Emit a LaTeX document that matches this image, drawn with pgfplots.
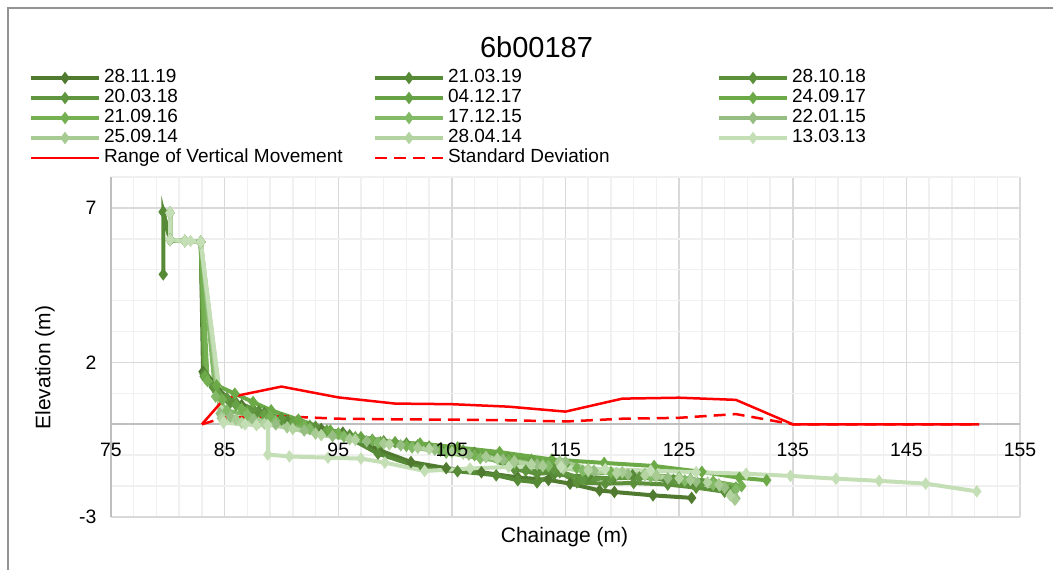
\documentclass[border=0pt]{standalone}
\usepackage{fontspec}
\setmainfont{Liberation Sans}
\usepackage{pgfplots}
\pgfplotsset{compat=1.18}
\definecolor{c1}{HTML}{4F7A30}
\definecolor{c2}{HTML}{578A36}
\definecolor{c3}{HTML}{5C903B}
\definecolor{c4}{HTML}{619641}
\definecolor{c5}{HTML}{67A247}
\definecolor{c6}{HTML}{6CAA48}
\definecolor{c7}{HTML}{75B153}
\definecolor{c8}{HTML}{82BA67}
\definecolor{c9}{HTML}{96BD82}
\definecolor{c10}{HTML}{A7CB92}
\definecolor{c11}{HTML}{B3D3A1}
\definecolor{c12}{HTML}{C4DEB5}
\newcommand{\LE}[1]{\makebox[134.5pt][l]{#1}}
\pgfplotsset{
  gser/.style={#1, line width=2pt, mark=diamond*, mark size=1.5pt, mark options={solid, fill=#1}},
  lser/.style={#1, line width=2pt, mark=diamond*, mark size=1.5pt, mark options={solid, fill=#1!45!white}},
}
\begin{document}
\begin{tikzpicture}[x=1pt,y=1pt]
\path[use as bounding box] (0,0) rectangle (526.5,285);
\draw[color=gray!85, line width=0.6pt] (4,0) -- (4,281) -- (526.5,281);
\begin{axis}[
  at={(55.5pt,26.5pt)}, anchor=south west,
  scale only axis, width=454.5pt, height=170pt,
  xmin=75, xmax=155, ymin=-3, ymax=8,
  xtick={75,85,...,155}, ytick={-3,2,7},
  xticklabels={},
  minor xtick={77,79,81,83,87,89,91,93,97,99,101,103,107,109,111,113,117,119,121,123,127,129,131,133,137,139,141,143,147,149,151,153},
  minor ytick={-2,-1,0,1,3,4,5,6,8},
  grid=both,
  major grid style={gray!30, line width=0.75pt},
  minor grid style={gray!12, line width=0.75pt},
  extra y ticks={0}, extra y tick labels={},
  extra y tick style={grid=major, major grid style={gray!50, line width=1pt}},
  extra x ticks={75}, extra x tick labels={},
  extra x tick style={grid=major, major grid style={gray!50, line width=1pt}},
  axis line style={draw=none},
  major tick length=0pt, minor tick length=0pt,
  /pgf/number format/assume math mode=true,
  yticklabel style={font=\fontsize{9.7}{11}\selectfont, xshift=-3.8pt},
  xlabel={Chainage (m)}, ylabel={Elevation (m)},
  label style={font=\fontsize{10.5}{12}\selectfont},
  xlabel style={at={(axis description cs:0.4989,-0.0588)}, anchor=center},
  ylabel style={at={(axis description cs:-0.0726,0.4397)}, anchor=center},
  legend columns=3,
  legend cell align=left,
  legend style={at={(axis description cs:-0.0902,1.3206)}, anchor=north west,
    draw=none, fill=none, inner sep=0pt, outer sep=0pt,
    font=\fontsize{9.5}{11}\selectfont, row sep=0pt,
    /tikz/every odd column/.append style={column sep=1.5pt},
    /tikz/every even column/.append style={column sep=0pt},
    nodes={inner sep=0pt, outer sep=0pt, text height=7.2pt, text depth=2.8pt}},
  legend image code/.code={\draw[mark repeat=2,mark phase=2,#1] plot coordinates {(0pt,0pt)(17pt,0pt)(34pt,0pt)};},
]
\addplot[gser=c1] coordinates {(79.6,6.87) (80.2,5.96) (82.9,5.9) (83.1,1.70) (83.6,1.45) (84.6,1.0) (86.5,0.62) (88.5,0.35) (91,0.05) (93.5,-0.15) (95.4,-0.27) (98.7,-0.85) (101.4,-1.22) (104.5,-1.42) (107.6,-1.55) (110.8,-1.72) (113.5,-1.8) (115.4,-1.92) (118,-2.14) (119.3,-2.19) (122.7,-2.3) (126.1,-2.38)};
\addlegendentry{\LE{28.11.19}}
\addplot[gser=c2] coordinates {(79.6,4.85) (79.6,6.87) (80.2,5.96) (82.9,5.9) (83.2,1.62) (84.2,1.15) (86,0.7) (88,0.42) (90.5,0.12) (93,-0.1) (95.5,-0.35) (98.5,-0.95) (102.5,-1.43) (105.5,-1.52) (108.9,-1.65) (110.8,-1.81) (112.5,-1.88) (114,-1.62) (117,-1.7) (119.2,-1.76) (120.9,-1.65) (123.9,-1.81) (126.2,-1.92) (128.3,-1.97) (129.7,-2.24)};
\addlegendentry{\LE{21.03.19}}
\addplot[gser=c3] coordinates {(80.2,6.84) (80.2,5.97) (81.5,5.93) (82.9,5.9) (83.3,1.5) (84.3,1.05) (85.5,0.7) (88,0.38) (90,0.15) (93,-0.08) (96,-0.35) (99,-0.55) (102,-0.68) (105,-0.85) (108,-1.05) (110.5,-1.45) (112.5,-1.6) (114.5,-1.55) (116,-1.88) (118.5,-1.92) (121,-1.9) (124,-1.95) (126.5,-2.05) (129,-2.18)};
\addlegendentry{\LE{28.10.18}}
\addplot[gser=c4] coordinates {(80.2,6.84) (80.2,5.97) (81.5,5.93) (82.9,5.9) (83.2,1.55) (84.0,1.2) (85.2,0.85) (87.5,0.5) (90,0.2) (92.5,-0.05) (95,-0.3) (98,-0.5) (101,-0.62) (104,-0.78) (107,-0.92) (110,-1.1) (111.5,-1.5) (114,-1.45) (116.5,-1.78) (119,-1.75) (121.5,-1.72) (124.5,-1.8) (127,-1.9) (129.5,-2.15)};
\addlegendentry{\LE{20.03.18}}
\addplot[gser=c5] coordinates {(80.2,6.84) (80.2,5.97) (81.5,5.93) (82.9,5.9) (83.4,1.45) (84.5,0.95) (86,0.62) (88.5,0.3) (91,0.05) (94,-0.2) (97,-0.42) (100,-0.58) (103,-0.72) (106,-0.85) (109,-1.0) (112,-1.15) (115,-1.3) (117,-1.55) (120,-1.6) (123,-1.68) (126,-1.78) (128.5,-1.95) (130,-2.05)};
\addlegendentry{\LE{04.12.17}}
\addplot[gser=c6] coordinates {(80.2,6.84) (80.2,5.97) (81.5,5.93) (82.9,5.9) (83.3,1.55) (84.3,1.26) (85.9,0.99) (87.5,0.72) (89.1,0.45) (91.5,0.15) (94.3,-0.2) (96.5,-0.42) (98.7,-0.58) (102.2,-0.62) (105.5,-0.75) (109.2,-0.9) (113.8,-1.14) (118.4,-1.25) (122.8,-1.35) (127,-1.54) (130.3,-1.73) (132.7,-1.81)};
\addlegendentry{\LE{24.09.17}}
\addplot[gser=c7] coordinates {(80.2,6.84) (80.2,5.97) (81.5,5.93) (82.9,5.9) (83.5,1.4) (84.8,0.8) (86.5,0.5) (89,0.25) (92,-0.05) (95,-0.3) (98,-0.52) (101,-0.7) (104,-0.85) (107,-1.0) (110,-1.15) (113,-1.28) (116,-1.42) (119,-1.55) (122,-1.62) (125,-1.72) (128,-1.85) (130.5,-2.0)};
\addlegendentry{\LE{21.09.16}}
\addplot[gser=c8] coordinates {(80.2,6.84) (80.2,5.97) (81.5,5.93) (82.9,5.9) (84.2,0.9) (85.2,0.45) (87,0.3) (89.5,0.1) (92.5,-0.15) (95.5,-0.4) (98.5,-0.6) (101.5,-0.75) (104.5,-0.92) (107.5,-1.1) (110.5,-1.25) (113.5,-1.35) (116.5,-1.5) (119.5,-1.6) (122.5,-1.7) (125.5,-1.82) (128,-1.95) (130,-2.1)};
\addlegendentry{\LE{17.12.15}}
\addplot[lser=c9] coordinates {(80.2,6.84) (80.2,5.97) (81.5,5.93) (82.9,5.9) (84.6,0.35) (85.5,0.25) (87.5,0.15) (89.5,0.0) (92,-0.2) (94.5,-0.38) (97.5,-0.55) (100.5,-0.68) (103.5,-0.82) (106.5,-0.98) (109.5,-1.15) (112.5,-1.3) (115,-1.22) (117.5,-1.5) (120.5,-1.62) (124,-1.75) (126.5,-1.85) (129,-2.05) (130,-2.4)};
\addlegendentry{\LE{22.01.15}}
\addplot[lser=c10] coordinates {(80.2,6.84) (80.2,5.97) (81.5,5.93) (82.9,5.9) (84.7,0.2) (86,0.15) (88,0.05) (90.5,-0.1) (93,-0.3) (96,-0.48) (99,-0.62) (102,-0.76) (105,-0.9) (108,-1.05) (110.5,-1.2) (113,-1.35) (114.5,-1.2) (117,-1.45) (120,-1.55) (123,-1.68) (126,-1.8) (128.5,-1.95) (129.9,-2.44)};
\addlegendentry{\LE{25.09.14}}
\addplot[lser=c11] coordinates {(80.2,6.84) (80.2,5.97) (81.5,5.93) (82.9,5.9) (84.8,0.15) (86.5,0.05) (88.5,0.02) (91,-0.15) (93.5,-0.35) (96.5,-0.5) (99.5,-0.65) (103,-0.8) (106,-0.95) (109,-1.12) (112,-1.3) (114.8,-1.43) (117,-1.5) (119.5,-1.58) (122,-1.65) (125,-1.75) (127.5,-1.88) (129.5,-2.3)};
\addlegendentry{\LE{28.04.14}}
\addplot[lser=c12] coordinates {(80.2,6.84) (80.2,5.97) (81.5,5.93) (82.0,5.93) (82.9,5.9) (84.9,0.05) (86.8,0.0) (87.8,-0.03) (88.8,-0.03) (88.8,-0.98) (90.7,-1.04) (94.1,-1.08) (97,-1.11) (99.1,-1.24) (102.6,-1.51) (106.6,-1.43) (110,-1.38) (114.6,-1.38) (118.5,-1.45) (122.5,-1.5) (126.5,-1.55) (130.9,-1.6) (134.8,-1.67) (138.8,-1.76) (142.6,-1.83) (146.7,-1.92) (151.2,-2.17)};
\addlegendentry{\LE{13.03.13}}
\addplot[red, line width=1.25pt] coordinates {(83,0) (85,0.84) (90,1.22) (95,0.87) (100,0.67) (105,0.65) (110,0.57) (115,0.41) (120,0.83) (125,0.86) (130,0.79) (135,0) (140,0) (145,0) (150,0) (151.4,0)};
\addlegendentry{\LE{Range of Vertical Movement}}
\addplot[red, line width=1.25pt, dash pattern=on 6pt off 3.5pt] coordinates {(83,0) (85,0.22) (90,0.26) (95,0.18) (100,0.16) (105,0.15) (110,0.13) (115,0.09) (120,0.18) (125,0.21) (130,0.33) (135,0) (140,0) (145,0) (150,0) (151.4,0)};
\addlegendentry{\LE{Standard Deviation}}
\end{axis}
\foreach \v [count=\i from 0] in {75,85,95,105,115,125,135,145,155} {
  \node[font=\fontsize{9.7}{11}\selectfont, anchor=center, inner sep=0pt] at ({55.5+\i*56.8125},59.9) {\v};
}
\node[font=\fontsize{14.5}{17}\selectfont] at (268.25,261.5) {6b00187};
\end{tikzpicture}
\end{document}
